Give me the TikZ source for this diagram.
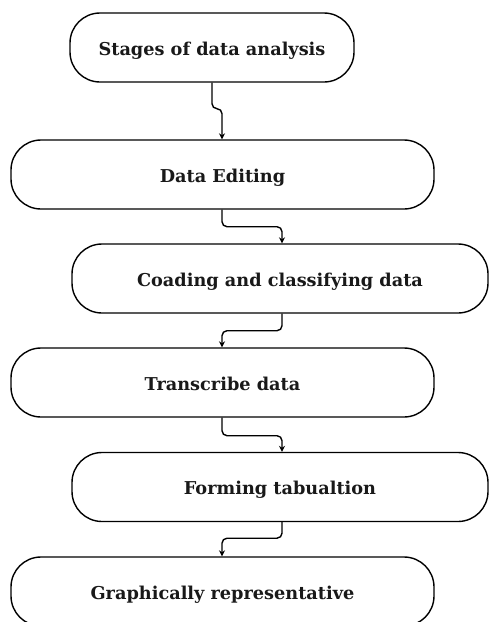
\documentclass[tikz,border=0pt]{standalone}
\usepackage{fontspec}
\setmainfont{DejaVu Serif}
\usetikzlibrary{arrows.meta,calc}
\tikzset{
  stage/.style={draw=black, line width=1.4pt, rounded corners=30pt, minimum height=69pt, inner sep=0pt, text height=15pt, text depth=0pt, font=\fontsize{17.7}{20}\selectfont\bfseries, text=black!90},
  conn/.style={draw=black, line width=1.4pt, rounded corners=5pt, -{Stealth[length=6pt,width=6pt]}}
}
\begin{document}
\begin{tikzpicture}[x=1pt,y=-1pt]
\useasboundingbox (0,0) rectangle (490,622);
\clip (0,0) rectangle (490,622);
\fill[white] (0,0) rectangle (490,622);
\node[stage, minimum width=284pt] (b1) at (212,47.5) {Stages of data analysis};
\node[stage, minimum width=423pt] (b2) at (222.5,174.5) {Data Editing};
\node[stage, minimum width=416pt] (b3) at (280,278.5) {Coading and classifying data};
\node[stage, minimum width=423pt] (b4) at (222.5,382.5) {Transcribe data};
\node[stage, minimum width=416pt] (b5) at (280,487) {Forming tabualtion};
\node[stage, minimum width=423pt] (b6) at (222.5,591.5) {Graphically representative};
\coordinate (c1) at (222,0);
\coordinate (c2) at (282,0);
\draw[conn] (b1.south) -- ++(0,26) -| (b2.north -| c1);
\draw[conn] (b2.south -| c1) -- ++(0,17) -| (b3.north -| c2);
\draw[conn] (b3.south -| c2) -- ++(0,17) -| (b4.north -| c1);
\draw[conn] (b4.south -| c1) -- ++(0,18) -| (b5.north -| c2);
\draw[conn] (b5.south -| c2) -- ++(0,16) -| (b6.north -| c1);
\end{tikzpicture}
\end{document}
